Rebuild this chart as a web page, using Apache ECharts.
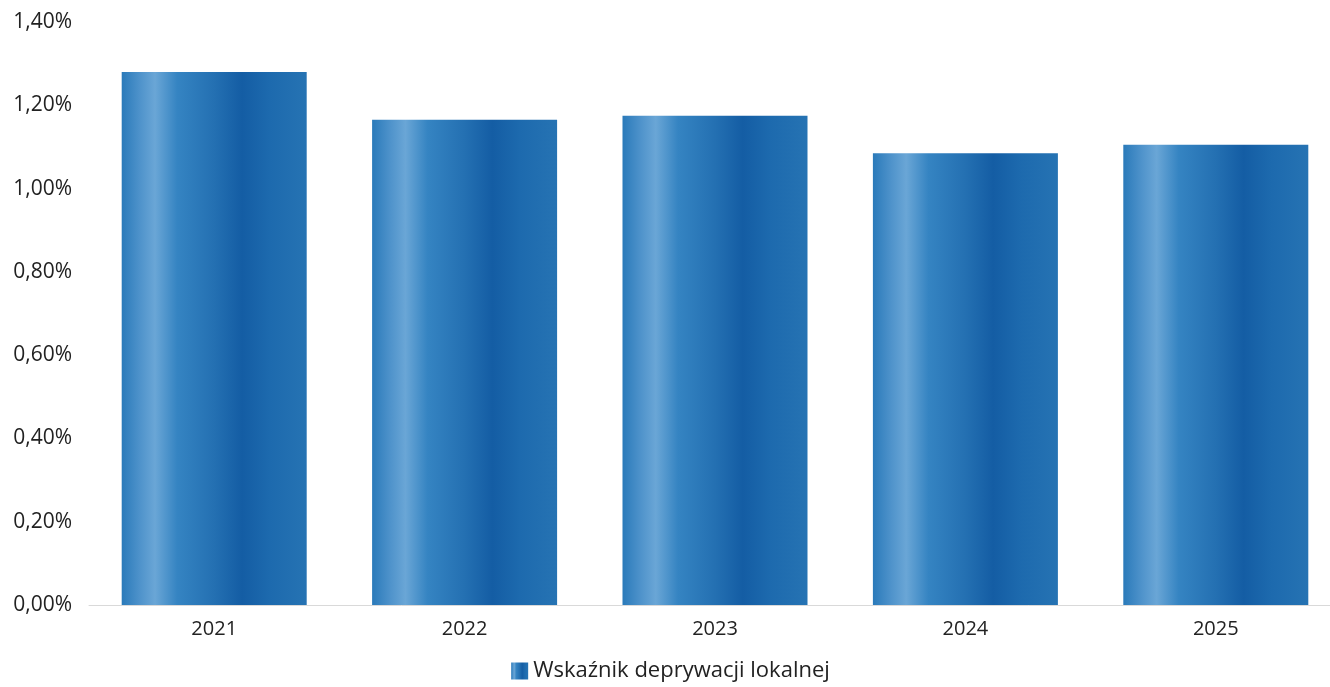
<!DOCTYPE html>
<html><head><meta charset="utf-8">
<script src="https://cdn.jsdelivr.net/npm/echarts@6/dist/echarts.min.js"></script>
<style>html,body{margin:0;padding:0;background:#fff;overflow:hidden}#c{width:1341px;height:687px}</style>
</head><body><div id="c"></div>
<script>
const categories = ['2021', '2022', '2023', '2024', '2025'];
const values = [1.28, 1.165, 1.175, 1.085, 1.105];
const seriesName = 'Wskaźnik deprywacji lokalnej';
const yMin = 0, yMax = 1.4, yInterval = 0.2;

const barGradient = new echarts.graphic.LinearGradient(0, 0, 1, 0, [
  {offset: 0, color: '#2a7aba'},
  {offset: 0.1, color: '#4f93cb'},
  {offset: 0.18, color: '#6aa6d6'},
  {offset: 0.3, color: '#3584c2'},
  {offset: 0.5, color: '#2470b2'},
  {offset: 0.65, color: '#145da4'},
  {offset: 0.8, color: '#1d6aae'},
  {offset: 1, color: '#2673b3'}
]);

const chart = echarts.init(document.getElementById('c'));
chart.setOption({
  animation: false,
  textStyle: {fontFamily: 'Open Sans'},
  grid: {left: 89, right: 0, top: 22, bottom: 82},
  legend: {
    bottom: 0, left: 'center',
    itemWidth: 17, itemHeight: 17, itemGap: 10,
    icon: 'rect',
    textStyle: {fontSize: 22, color: '#222', fontFamily: 'Open Sans'},
    data: [seriesName]
  },
  xAxis: {
    type: 'category', data: categories,
    axisLine: {lineStyle: {color: '#d9d9d9'}},
    axisTick: {show: false},
    axisLabel: {fontSize: 20, color: '#222', margin: 14}
  },
  yAxis: {
    type: 'value', min: yMin, max: yMax, interval: yInterval,
    axisLine: {show: false}, axisTick: {show: false},
    splitLine: {show: false},
    axisLabel: {fontSize: 21, color: '#222', margin: 17,
      formatter: v => v.toFixed(2).replace('.', ',') + '%'}
  },
  series: [{
    name: seriesName, type: 'bar', data: values,
    barWidth: 185,
    itemStyle: {color: barGradient}
  }]
});
</script></body></html>
